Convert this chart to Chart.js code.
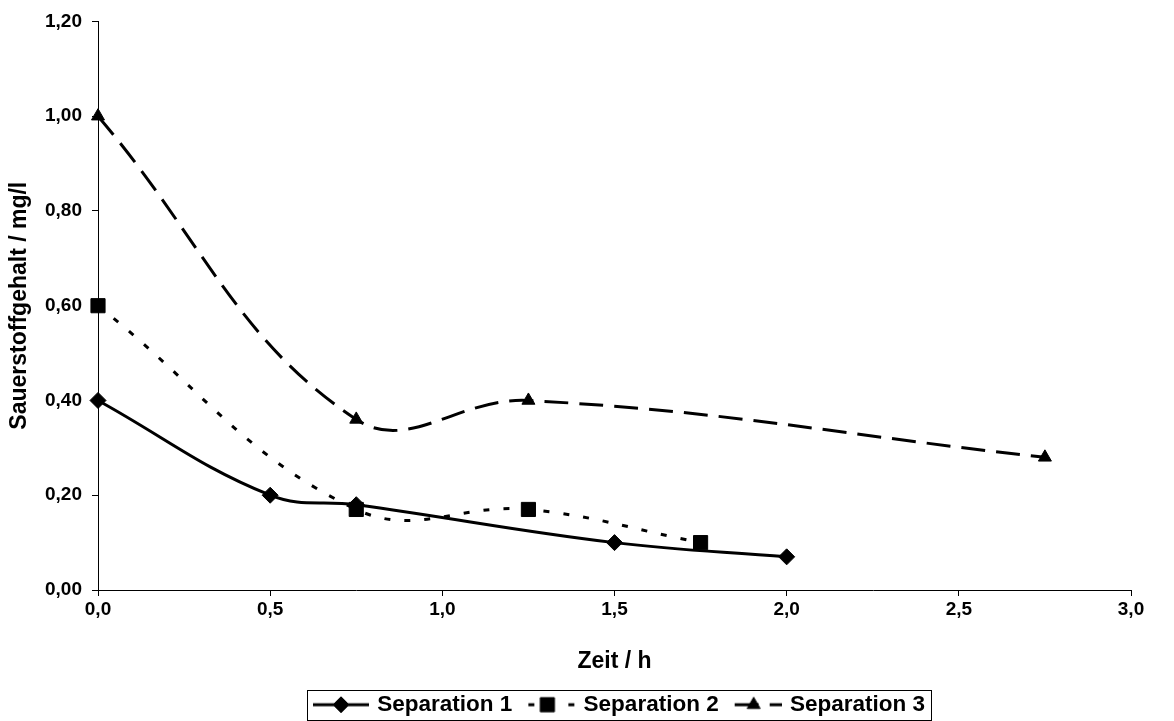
<!DOCTYPE html>
<html lang="de">
<head>
<meta charset="utf-8">
<title>Sauerstoffgehalt</title>
<script src="https://cdn.jsdelivr.net/npm/chart.js@4.4.1/dist/chart.umd.min.js"></script>
<style>
  html, body { margin: 0; padding: 0; background: #fff; }
  #wrap { width: 1174px; height: 721px; }
</style>
</head>
<body>
<div id="wrap"><canvas id="o2Chart" width="1174" height="721"></canvas></div>
<script>
// Messwerte: Zeit in h, Sauerstoffgehalt in mg/l
const sep1Time = [0, 0.5, 0.75, 1.5, 2.0];
const sep1O2 = [0.40, 0.20, 0.18, 0.10, 0.07];

const sep2Time = [0, 0.75, 1.25, 1.75];
const sep2O2 = [0.60, 0.17, 0.17, 0.10];

const sep3Time = [0, 0.75, 1.25, 2.75];
const sep3O2 = [1.00, 0.36, 0.40, 0.28];

const seriesNames = ['Separation 1', 'Separation 2', 'Separation 3'];

const toPoints = (xs, ys) => xs.map((x, i) => ({ x: x, y: ys[i] }));

const FONT = '"Liberation Sans", Arial, Helvetica, sans-serif';
Chart.defaults.font.family = FONT;
Chart.defaults.color = '#000';

// line + marker styles per series
const styles = [
    { dash: [], pointStyle: 'rectRot', radius: 8 },
    { dash: [6, 14], pointStyle: 'rect', radius: 10 },
    { dash: [24, 11], pointStyle: 'triangle', radius: 7.5 }
];

// small legend icons: line sample with the marker in the middle
function legendIcon(style) {
    const c = document.createElement('canvas');
    c.width = 56;
    c.height = 24;
    const g = c.getContext('2d');
    g.strokeStyle = '#000';
    g.fillStyle = '#000';
    g.lineWidth = 3;
    g.setLineDash(style.dash);
    g.lineDashOffset = -9;
    g.beginPath();
    g.moveTo(0, 12);
    g.lineTo(56, 12);
    g.stroke();
    g.setLineDash([]);
    g.lineWidth = 1;
    Chart.helpers.drawPoint(g, {
        pointStyle: style.pointStyle,
        radius: style.radius,
        rotation: 0,
        borderWidth: 1
    }, 28, 12);
    return c;
}
const legendIcons = styles.map(legendIcon);

// moves the legend into place and draws the frame around it
const legendFrame = {
    id: 'legendFrame',
    afterLayout(chart) {
        const lg = chart.legend;
        lg.left += 6;
        lg.right += 6;
        lg.top += 5;
        lg.bottom += 5;
    },
    afterDraw(chart) {
        const boxes = chart.legend.legendHitBoxes;
        if (!boxes || !boxes.length) return;
        const first = boxes[0];
        const last = boxes[boxes.length - 1];
        const mid = first.top + first.height / 2;
        const c = chart.ctx;
        c.save();
        c.strokeStyle = '#000';
        c.lineWidth = 1;
        c.strokeRect(Math.round(first.left - 9) + 0.5, Math.round(mid - 15) + 0.5,
            Math.round(last.left + last.width + 6 - (first.left - 9)), 30);
        c.restore();
    }
};

const datasets = [
    { data: toPoints(sep1Time, sep1O2) },
    { data: toPoints(sep2Time, sep2O2) },
    { data: toPoints(sep3Time, sep3O2) }
].map((ds, i) => Object.assign(ds, {
    label: seriesNames[i],
    borderColor: '#000',
    backgroundColor: '#000',
    borderWidth: 3,
    borderDash: styles[i].dash,
    tension: 0.4,
    cubicInterpolationMode: 'default',
    pointStyle: styles[i].pointStyle,
    pointRadius: styles[i].radius,
    pointHoverRadius: styles[i].radius,
    pointBackgroundColor: '#000',
    pointBorderColor: '#000',
    pointBorderWidth: 1,
    fill: false,
    clip: false
}));

const ctx = document.getElementById('o2Chart').getContext('2d');

new Chart(ctx, {
    type: 'line',
    data: { datasets: datasets },
    plugins: [legendFrame],
    options: {
        responsive: false,
        animation: false,
        layout: {
            padding: { left: 0, right: 43, top: 21, bottom: 0 }
        },
        plugins: {
            tooltip: { enabled: false },
            title: { display: false },
            legend: {
                position: 'bottom',
                fullSize: false,
                labels: {
                    usePointStyle: true,
                    pointStyleWidth: 50,
                    padding: 10,
                    color: '#000',
                    font: { size: 22.5, weight: 'bold' },
                    generateLabels: chart =>
                        Chart.defaults.plugins.legend.labels.generateLabels(chart)
                            .map((item, i) => Object.assign(item, { pointStyle: legendIcons[i] }))
                }
            }
        },
        scales: {
            x: {
                type: 'linear',
                min: 0,
                max: 3,
                afterFit: scale => { scale.height = 88.5; },
                border: { display: true, color: '#000', width: 1 },
                grid: {
                    display: true,
                    drawOnChartArea: false,
                    drawTicks: true,
                    tickLength: 6,
                    color: '#000'
                },
                ticks: {
                    stepSize: 0.5,
                    padding: 2,
                    color: '#000',
                    font: { size: 19, weight: 'bold' },
                    callback: v => v.toFixed(1).replace('.', ',')
                },
                title: {
                    display: true,
                    text: 'Zeit / h',
                    color: '#000',
                    font: { size: 23, weight: 'bold' },
                    padding: { top: 4, bottom: 3 }
                }
            },
            y: {
                min: 0,
                max: 1.2,
                afterFit: scale => { scale.width = 98; },
                border: { display: true, color: '#000', width: 1 },
                grid: {
                    display: true,
                    drawOnChartArea: false,
                    drawTicks: true,
                    tickLength: 6,
                    color: '#000'
                },
                ticks: {
                    stepSize: 0.2,
                    padding: 10,
                    color: '#000',
                    font: { size: 19, weight: 'bold' },
                    callback: v => v.toFixed(2).replace('.', ',')
                },
                title: {
                    display: true,
                    text: 'Sauerstoffgehalt / mg/l',
                    color: '#000',
                    font: { size: 23, weight: 'bold' },
                    padding: { top: 6, bottom: 4 }
                }
            }
        }
    }
});
</script>
</body>
</html>
